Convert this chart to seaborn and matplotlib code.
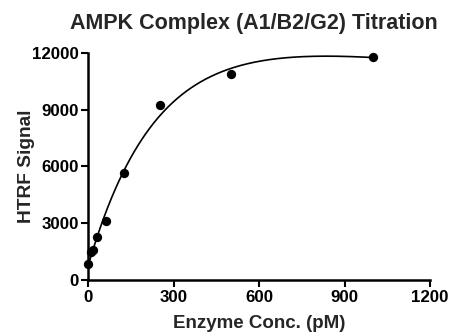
import numpy as np
import pandas as pd
import matplotlib
matplotlib.use("Agg")
import matplotlib.pyplot as plt
import seaborn as sns

conc = [0, 7.8, 15.6, 31.25, 62.5, 125, 250, 500, 1000]
signal = [850, 1500, 1600, 2300, 3120, 5640, 9250, 10900, 11800]
x_ticks = [0, 300, 600, 900, 1200]
y_ticks = [0, 3000, 6000, 9000, 12000]

sns.set_theme(style="ticks")
plt.rcParams['font.family'] = ['Liberation Sans', 'DejaVu Sans']
plt.rcParams['font.weight'] = 'bold'

df = pd.DataFrame({"conc": conc, "signal": signal})

# least-squares fit: exponential rise with linear drift (k by grid search)
xa = df["conc"].to_numpy(float)
ya = df["signal"].to_numpy(float)
best = None
for k in np.linspace(0.0005, 0.02, 400):
    M = np.column_stack([np.ones_like(xa), 1 - np.exp(-k * xa), xa])
    c, *_ = np.linalg.lstsq(M, ya, rcond=None)
    r = np.sum((M @ c - ya) ** 2)
    if best is None or r < best[0]:
        best = (r, k, c)
_, kb, cb = best
xf = np.linspace(0, 1000, 300)
fit = pd.DataFrame({"conc": xf,
                    "signal": cb[0] + cb[1] * (1 - np.exp(-kb * xf)) + cb[2] * xf})

fig = plt.figure(figsize=(4.49, 3.35), dpi=100)
ax = fig.add_axes([0.197, 0.164, 0.761, 0.678])
sns.lineplot(data=fit, x="conc", y="signal", ax=ax, color="black", linewidth=1.2)
sns.scatterplot(data=df, x="conc", y="signal", ax=ax, color="black", s=45,
                edgecolor="black", linewidth=0, zorder=5, clip_on=False)

ax.set_xlim(0, 1200)
ax.set_ylim(0, 12000)
ax.set_xticks(x_ticks)
ax.set_yticks(y_ticks)
ax.tick_params(direction="out", length=5, width=1.5, labelsize=12.2, pad=2, colors="black")
for lab in ax.get_xticklabels() + ax.get_yticklabels():
    lab.set_fontweight("bold")
for s in ["left", "bottom"]:
    ax.spines[s].set_linewidth(1.8)
    ax.spines[s].set_color("black")
sns.despine(ax=ax)
ax.set_xlabel("Enzyme Conc. (pM)", fontsize=13.5, fontweight="bold", labelpad=7)
ax.set_ylabel("HTRF Signal", fontsize=13.8, fontweight="bold", labelpad=-2)
ax.set_title("AMPK Complex (A1/B2/G2) Titration", fontsize=15.5, fontweight="bold",
             pad=17, x=0.485)

fig.savefig("out.png", dpi=100)
